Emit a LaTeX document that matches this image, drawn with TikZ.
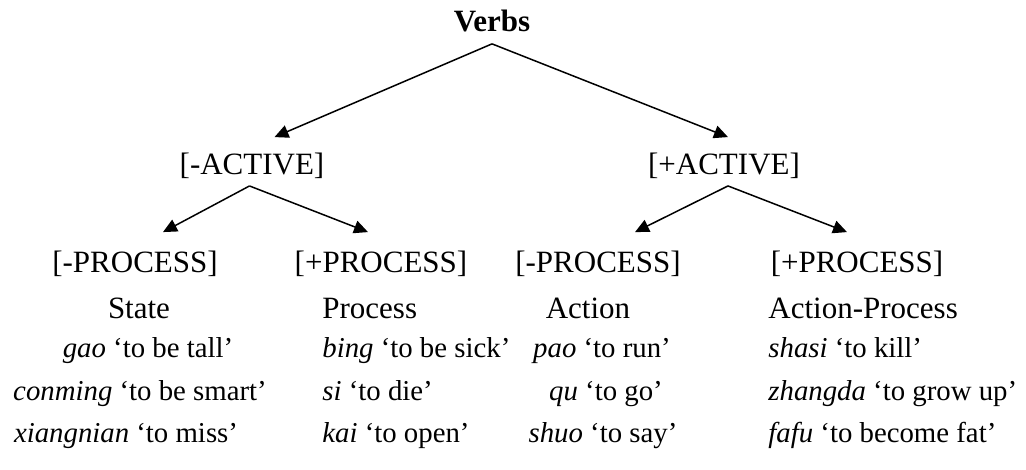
\documentclass[tikz,border=0pt]{standalone}
\usepackage{fontspec}
\setmainfont{Liberation Serif}
\usetikzlibrary{arrows.meta}

\begin{document}
\begin{tikzpicture}[
  x=0.5pt,
  y=-0.5pt,
  font=\fontsize{15.5}{18}\selectfont,
  word/.style={inner sep=0pt,anchor=base},
  wordl/.style={inner sep=0pt,anchor=base west},
  gloss/.style={font=\fontsize{14.4}{17}\selectfont},
  arrow/.style={-{Triangle[length=7pt,width=6.5pt]},line width=0.75pt}
]
\useasboundingbox (0,0) rectangle (1026,470);

% Feature tree.
\node[word,font=\fontsize{15.5}{18}\selectfont\bfseries] (verbs) at (492,32) {Verbs};
\node[word] (nact) at (252,175) {[-ACTIVE]};
\node[word] (pact) at (724,175) {[+ACTIVE]};
\node[word] (nproca) at (135,272) {[-PROCESS]};
\node[word] (pproca) at (381,272) {[+PROCESS]};
\node[word] (nprocb) at (598,272) {[-PROCESS]};
\node[word] (pprocb) at (857,272) {[+PROCESS]};

\draw[arrow] ([yshift=-5.5pt]verbs.south) -- ([xshift=11.25pt,yshift=8pt]nact.north);
\draw[arrow] ([yshift=-5.5pt]verbs.south) -- ([xshift=2pt,yshift=8pt]pact.north);
\draw[arrow] ([xshift=-1.25pt,yshift=-3.2pt]nact.south) -- ([xshift=14pt,yshift=9pt]nproca.north);
\draw[arrow] ([xshift=-1.25pt,yshift=-3.2pt]nact.south) -- ([xshift=-6.5pt,yshift=9pt]pproca.north);
\draw[arrow] ([xshift=2pt,yshift=-3.2pt]pact.south) -- ([xshift=18.5pt,yshift=9pt]nprocb.north);
\draw[arrow] ([xshift=2pt,yshift=-3.2pt]pact.south) -- ([xshift=-5pt,yshift=9pt]pprocb.north);

% Verb classes.
\node[word] (state) at (139,318) {State};
\node[wordl] (process) at (322,318) {Process};
\node[word] (action) at (588,318) {Action};
\node[wordl] (actproc) at (768,318) {Action-Process};

% Examples.
\node[word,gloss] (gao) at (148,357) {\textit{gao} `to be tall'};
\node[word,gloss] (conming) at (140,400) {\textit{conming} `to be smart'};
\node[word,gloss] (xiangnian) at (126,442) {\textit{xiangnian} `to miss'};
\node[wordl,gloss] (bing) at (322,357) {\textit{bing} `to be sick'};
\node[wordl,gloss] (si) at (322,400) {\textit{si} `to die'};
\node[wordl,gloss] (kai) at (322,442) {\textit{kai} `to open'};
\node[word,gloss] (pao) at (602,357) {\textit{pao} `to run'};
\node[word,gloss] (qu) at (606,400) {\textit{qu} `to go'};
\node[word,gloss] (shuo) at (603,442) {\textit{shuo} `to say'};
\node[wordl,gloss] (shasi) at (768,357) {\textit{shasi} `to kill'};
\node[wordl,gloss] (zhangda) at (768,400) {\textit{zhangda} `to grow up'};
\node[wordl,gloss] (fafu) at (768,442) {\textit{fafu} `to become fat'};

\end{tikzpicture}
\end{document}
